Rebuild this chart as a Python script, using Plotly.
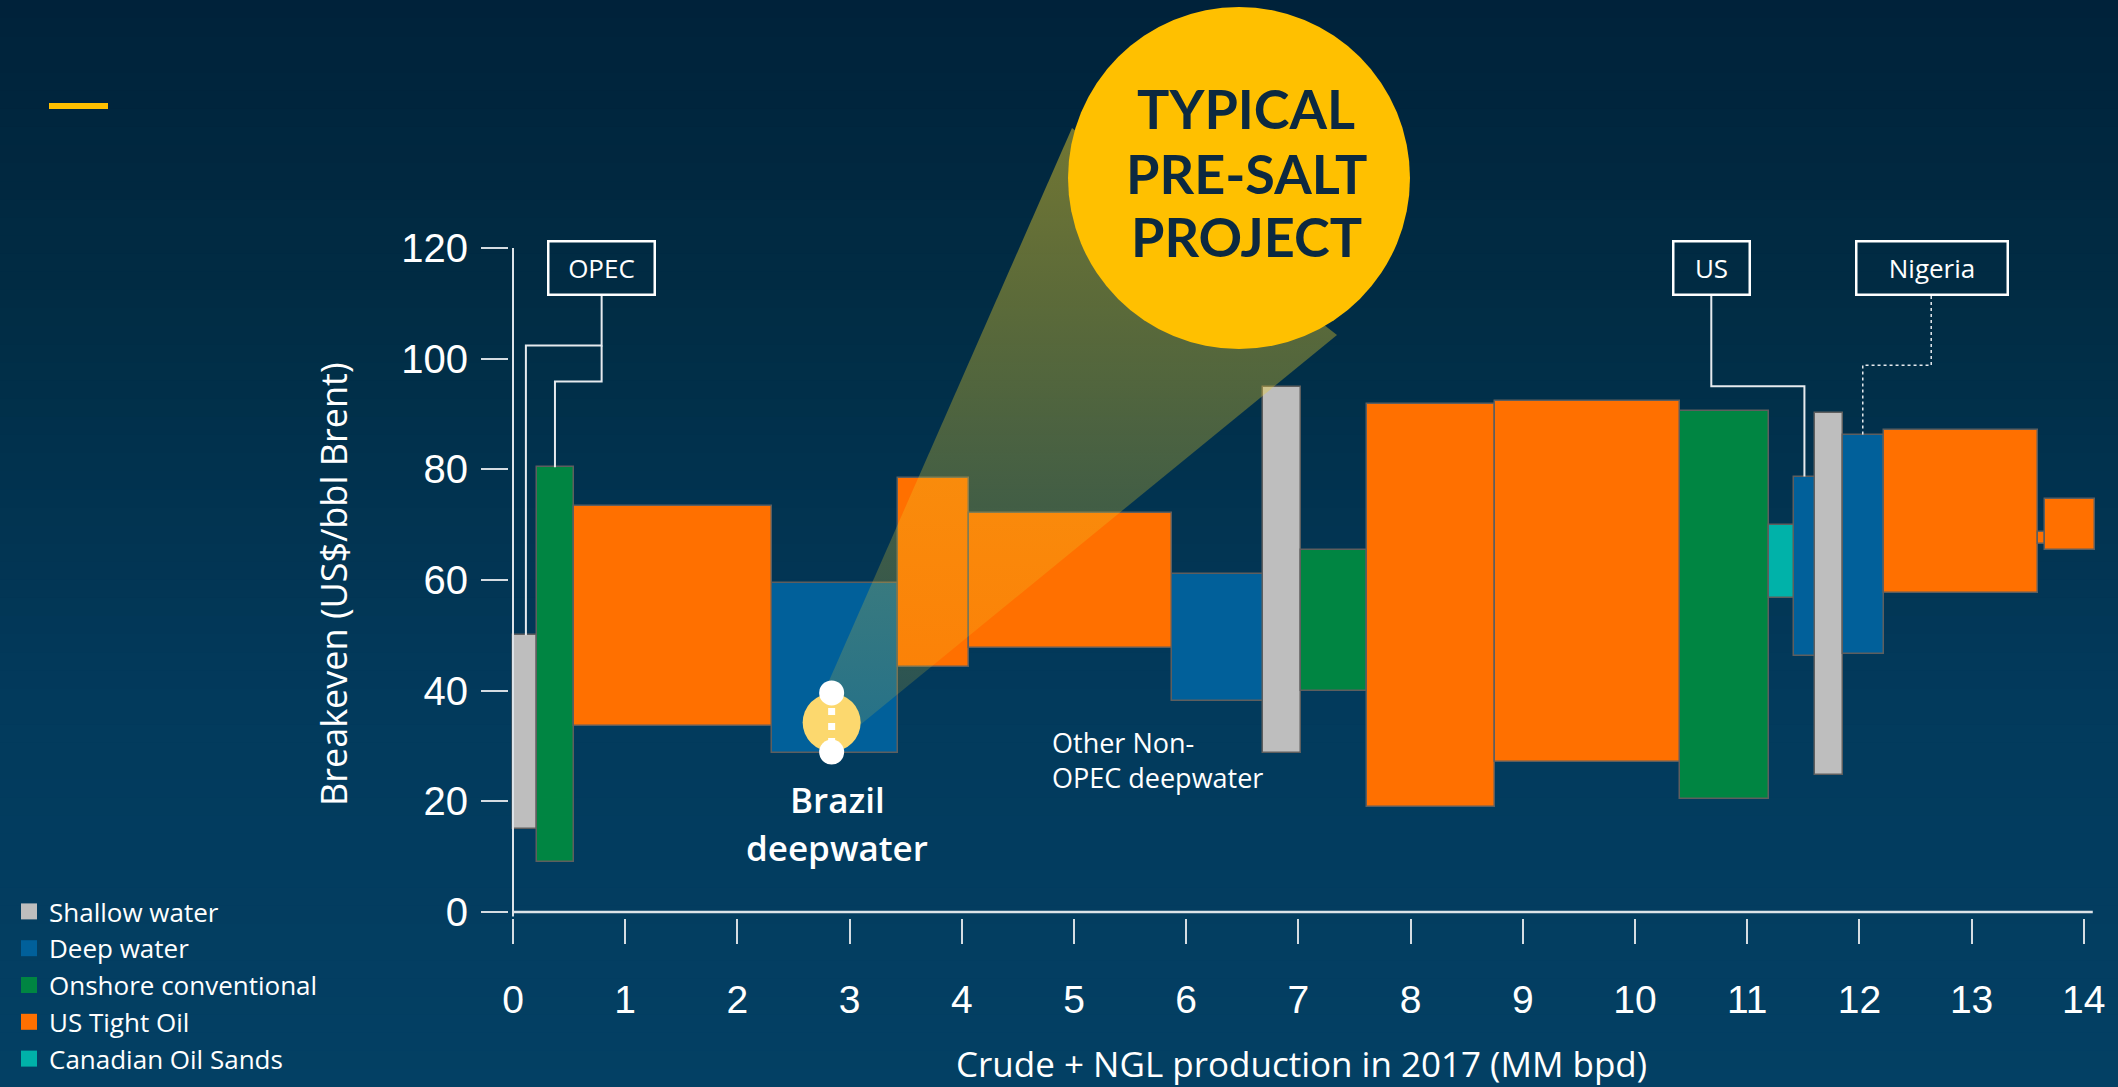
import plotly.graph_objects as go

# ------------------------------------------------------------------ data
categories = ["Shallow water", "Deep water", "Onshore conventional",
              "US Tight Oil", "Canadian Oil Sands"]
cat_colors = ["#BEBEBE", "#01609A", "#008542", "#FF7000", "#00B2A9"]

bar_type = ["Shallow water", "Onshore conventional", "US Tight Oil", "Deep water",
            "US Tight Oil", "US Tight Oil", "Deep water", "Shallow water",
            "Onshore conventional", "US Tight Oil", "US Tight Oil",
            "Onshore conventional", "Canadian Oil Sands", "Deep water",
            "Shallow water", "Deep water", "US Tight Oil", "US Tight Oil",
            "US Tight Oil"]
x_start = [0.00, 0.21, 0.54, 2.31, 3.43, 4.06, 5.87, 6.68, 7.02, 7.61, 8.75,
           10.40, 11.19, 11.42, 11.60, 11.85, 12.22, 13.59, 13.65]
x_end = [0.21, 0.54, 2.31, 3.43, 4.06, 5.87, 6.68, 7.02, 7.61, 8.75, 10.40,
         11.19, 11.42, 11.60, 11.85, 12.22, 13.59, 13.65, 14.10]
low = [15.0, 9.0, 33.7, 28.7, 44.2, 47.8, 38.2, 28.8, 40.0, 19.0, 27.2,
       20.5, 56.8, 46.2, 24.8, 46.7, 57.7, 66.6, 65.5]
high = [50.0, 80.4, 73.3, 59.5, 78.4, 72.2, 61.0, 94.8, 65.5, 91.8, 92.3,
        90.5, 69.9, 78.7, 90.1, 86.3, 87.2, 68.6, 74.6]

x_ticks = list(range(0, 15))
y_ticks = [0, 20, 40, 60, 80, 100, 120]

x_title = "Crude + NGL production in 2017 (MM bpd)"
y_title = "Breakeven (US$/bbl Brent)"

# Brazil pre-salt typical project range
brazil_x = 2.84
brazil_range = [39.6, 28.9]

# callout boxes
box_labels = ["OPEC", "US", "Nigeria"]
box_x = [0.79, 10.68, 12.65]
box_y = 116.4

# ------------------------------------------------------------------ layout geometry
W, H = 2118, 1087
ML, MR, MT, MB = 509, 0, 0, 169
PX_PER_X = 112.2
PX_PER_Y = 5.533
X0_PX, Y0_PX = 513, 912
X_RANGE = [(ML - X0_PX) / PX_PER_X, (W - MR - X0_PX) / PX_PER_X]
Y_RANGE = [(Y0_PX - (H - MB)) / PX_PER_Y, (Y0_PX - MT) / PX_PER_Y]


def px(x):  # pixel -> paper x
    return (x - ML) / (W - ML - MR)


def py(y):  # pixel -> paper y
    return (H - MB - y) / (H - MB - MT)


def dx(x):  # pixel -> data x
    return (x - X0_PX) / PX_PER_X


def dy(y):  # pixel -> data y
    return (Y0_PX - y) / PX_PER_Y


fig = go.Figure()

# ------------------------------------------------------------------ bars
color_of = dict(zip(categories, cat_colors))
for cat in categories:
    idx = [i for i, t in enumerate(bar_type) if t == cat]
    fig.add_trace(go.Bar(
        x=[(x_start[i] + x_end[i]) / 2 for i in idx],
        width=[x_end[i] - x_start[i] for i in idx],
        base=[low[i] for i in idx],
        y=[high[i] - low[i] for i in idx],
        marker=dict(color=color_of[cat], line=dict(color="#5E5E5E", width=1.5)),
        name=cat, legendgroup=cat, showlegend=False,
    ))

# ------------------------------------------------------------------ spotlight cone
cone_px = [(1072, 128), (1337, 335), (860, 725), (825, 690), (1072, 128)]
cx = [dx(p[0]) for p in cone_px]
cy = [dy(p[1]) for p in cone_px]
fig.add_trace(go.Scatter(
    x=cx, y=cy, mode="lines", fill="toself", line=dict(width=0),
    fillgradient=dict(type="vertical",
                      colorscale=[[0, "rgba(235,205,40,0.16)"],
                                  [1, "rgba(235,205,40,0.48)"]],
                      start=min(cy), stop=max(cy)),
    showlegend=False, hoverinfo="skip"))

# ------------------------------------------------------------------ Brazil marker
mid = (brazil_range[0] + brazil_range[1]) / 2
fig.add_trace(go.Scatter(x=[brazil_x], y=[mid], mode="markers",
                         marker=dict(size=58, color="#FCD86E"),
                         showlegend=False, hoverinfo="skip"))
fig.add_trace(go.Scatter(x=[brazil_x, brazil_x], y=brazil_range, mode="lines",
                         line=dict(color="white", width=7, dash="7px,8px"),
                         showlegend=False, hoverinfo="skip"))
fig.add_trace(go.Scatter(x=[brazil_x, brazil_x], y=brazil_range, mode="markers",
                         marker=dict(size=25, color="white"),
                         showlegend=False, hoverinfo="skip"))

# ------------------------------------------------------------------ legend entries
for cat, col in zip(categories, cat_colors):
    fig.add_trace(go.Scatter(x=[None], y=[None], mode="markers",
                             marker=dict(symbol="square", size=20, color=col),
                             name=cat, legendgroup=cat, showlegend=True))

# ------------------------------------------------------------------ shapes
shapes = []
stops = [(0, (0, 34, 58)), (300, (1, 44, 68)), (700, (2, 58, 92)), (1087, (3, 64, 100))]


def bg_color(y):
    for (y0, c0), (y1, c1) in zip(stops[:-1], stops[1:]):
        if y0 <= y <= y1:
            t = (y - y0) / (y1 - y0)
            return "rgb(%d,%d,%d)" % tuple(round(a + (b - a) * t) for a, b in zip(c0, c1))
    return "rgb(3,64,100)"


N = 60
for k in range(N):
    y0 = k * H / N
    y1 = (k + 1) * H / N + 1
    shapes.append(dict(type="rect", xref="paper", yref="paper", layer="below",
                       x0=px(0), x1=px(W), y0=py(y1), y1=py(y0),
                       fillcolor=bg_color((y0 + y1) / 2), line=dict(width=0)))

# yellow dash top-left
shapes.append(dict(type="rect", xref="paper", yref="paper", layer="above",
                   x0=px(49), x1=px(108), y0=py(109), y1=py(103),
                   fillcolor="#FFC000", line=dict(width=0)))

# axis lines
axis_col = "#DDE3E8"
shapes.append(dict(type="line", xref="x", yref="y", layer="above",
                   x0=0, x1=0, y0=-0.8, y1=120, line=dict(color=axis_col, width=2)))
shapes.append(dict(type="line", xref="x", yref="y", layer="above",
                   x0=0, x1=14.08, y0=0, y1=0, line=dict(color=axis_col, width=2.5)))

# leader lines
lead = dict(color="#E6EAEE", width=2)
box_bottom = dy(296)
shapes.append(dict(type="path", xref="x", yref="y", layer="above",
                   path=f"M {box_x[0]},{box_bottom} L {box_x[0]},102.4 L 0.115,102.4 L 0.115,{high[0]}",
                   line=lead))
shapes.append(dict(type="path", xref="x", yref="y", layer="above",
                   path=f"M {box_x[0]},102.4 L {box_x[0]},95.9 L 0.374,95.9 L 0.374,{high[1]}",
                   line=lead))
shapes.append(dict(type="path", xref="x", yref="y", layer="above",
                   path=f"M {box_x[1]},{box_bottom} L {box_x[1]},95.0 L 11.51,95.0 L 11.51,{high[13]}",
                   line=lead))
shapes.append(dict(type="path", xref="x", yref="y", layer="above",
                   path=f"M 12.64,{box_bottom} L 12.64,98.8 L 12.03,98.8 L 12.03,{high[15]}",
                   line=dict(color="#E6EAEE", width=1.5, dash="dot")))

# big yellow circle
shapes.append(dict(type="circle", xref="x", yref="y", layer="above",
                   x0=dx(1068), x1=dx(1410), y0=dy(349), y1=dy(7),
                   fillcolor="#FFC000", line=dict(width=0)))

# ------------------------------------------------------------------ annotations
ann = []
for lab, xb, wd in zip(box_labels, box_x, [104, 74, 149]):
    ann.append(dict(x=xb, y=box_y, xref="x", yref="y", text=lab, showarrow=False,
                    width=wd, height=51, borderwidth=2.5, bordercolor="white",
                    borderpad=0, font=dict(family="Open Sans", size=26, color="white"),
                    xanchor="center", yanchor="middle"))

for txt, ypx in zip(["TYPICAL", "PRE-SALT", "PROJECT"], [108, 173, 236]):
    ann.append(dict(x=dx(1246), y=dy(ypx), xref="x", yref="y", text=txt,
                    showarrow=False, xanchor="center", yanchor="middle",
                    font=dict(family="Lato", size=54, color="#0C2940", weight="bold")))

for txt, ypx in zip(["Brazil", "deepwater"], [799, 847]):
    ann.append(dict(x=dx(837), y=dy(ypx), xref="x", yref="y", text=txt,
                    showarrow=False, xanchor="center", yanchor="middle",
                    font=dict(family="Open Sans", size=35, color="white", weight=600)))

ann.append(dict(x=dx(1050), y=dy(760), xref="x", yref="y",
                text="Other Non-<br>OPEC deepwater", showarrow=False,
                xanchor="left", yanchor="middle", align="left",
                font=dict(family="Open Sans", size=27, color="white")))

# axis titles
ann.append(dict(x=px(1301), y=py(1063), xref="paper", yref="paper", text=x_title,
                showarrow=False, xanchor="center", yanchor="middle",
                font=dict(family="Open Sans", size=35, color="white")))
ann.append(dict(x=px(333), y=py(584), xref="paper", yref="paper", text=y_title,
                showarrow=False, xanchor="center", yanchor="middle", textangle=-90,
                font=dict(family="Open Sans", size=36, color="white")))

tick_col = "#D5DCE2"
fig.update_layout(
    width=W, height=H, autosize=False,
    margin=dict(l=ML, r=MR, t=MT, b=MB, pad=0, autoexpand=False),
    paper_bgcolor="rgb(2,48,76)", plot_bgcolor="rgba(0,0,0,0)",
    barmode="overlay", bargap=0,
    shapes=shapes, annotations=ann,
    showlegend=True,
    legend=dict(x=px(9), y=py(888), xanchor="left", yanchor="top",
                bgcolor="rgba(0,0,0,0)", borderwidth=0,
                font=dict(family="Open Sans", size=26, color="white"),
                itemwidth=30, tracegroupgap=0),
    xaxis=dict(range=X_RANGE, tickvals=x_ticks, ticktext=[str(v) for v in x_ticks],
               ticks="outside", ticklen=25, tickwidth=1.5, tickcolor=tick_col,
               showline=False, showgrid=False, zeroline=False, automargin=False,
               ticklabelstandoff=22,
               tickfont=dict(family="Liberation Sans, Arial", size=39, color="white")),
    yaxis=dict(range=Y_RANGE, tickvals=y_ticks, ticktext=[str(v) for v in y_ticks],
               ticks="outside", ticklen=27, tickwidth=1.5, tickcolor=tick_col,
               showline=False, showgrid=False, zeroline=False, automargin=False,
               ticklabelstandoff=5,
               tickfont=dict(family="Liberation Sans, Arial", size=40, color="white")),
)

fig.write_html("out.html")
